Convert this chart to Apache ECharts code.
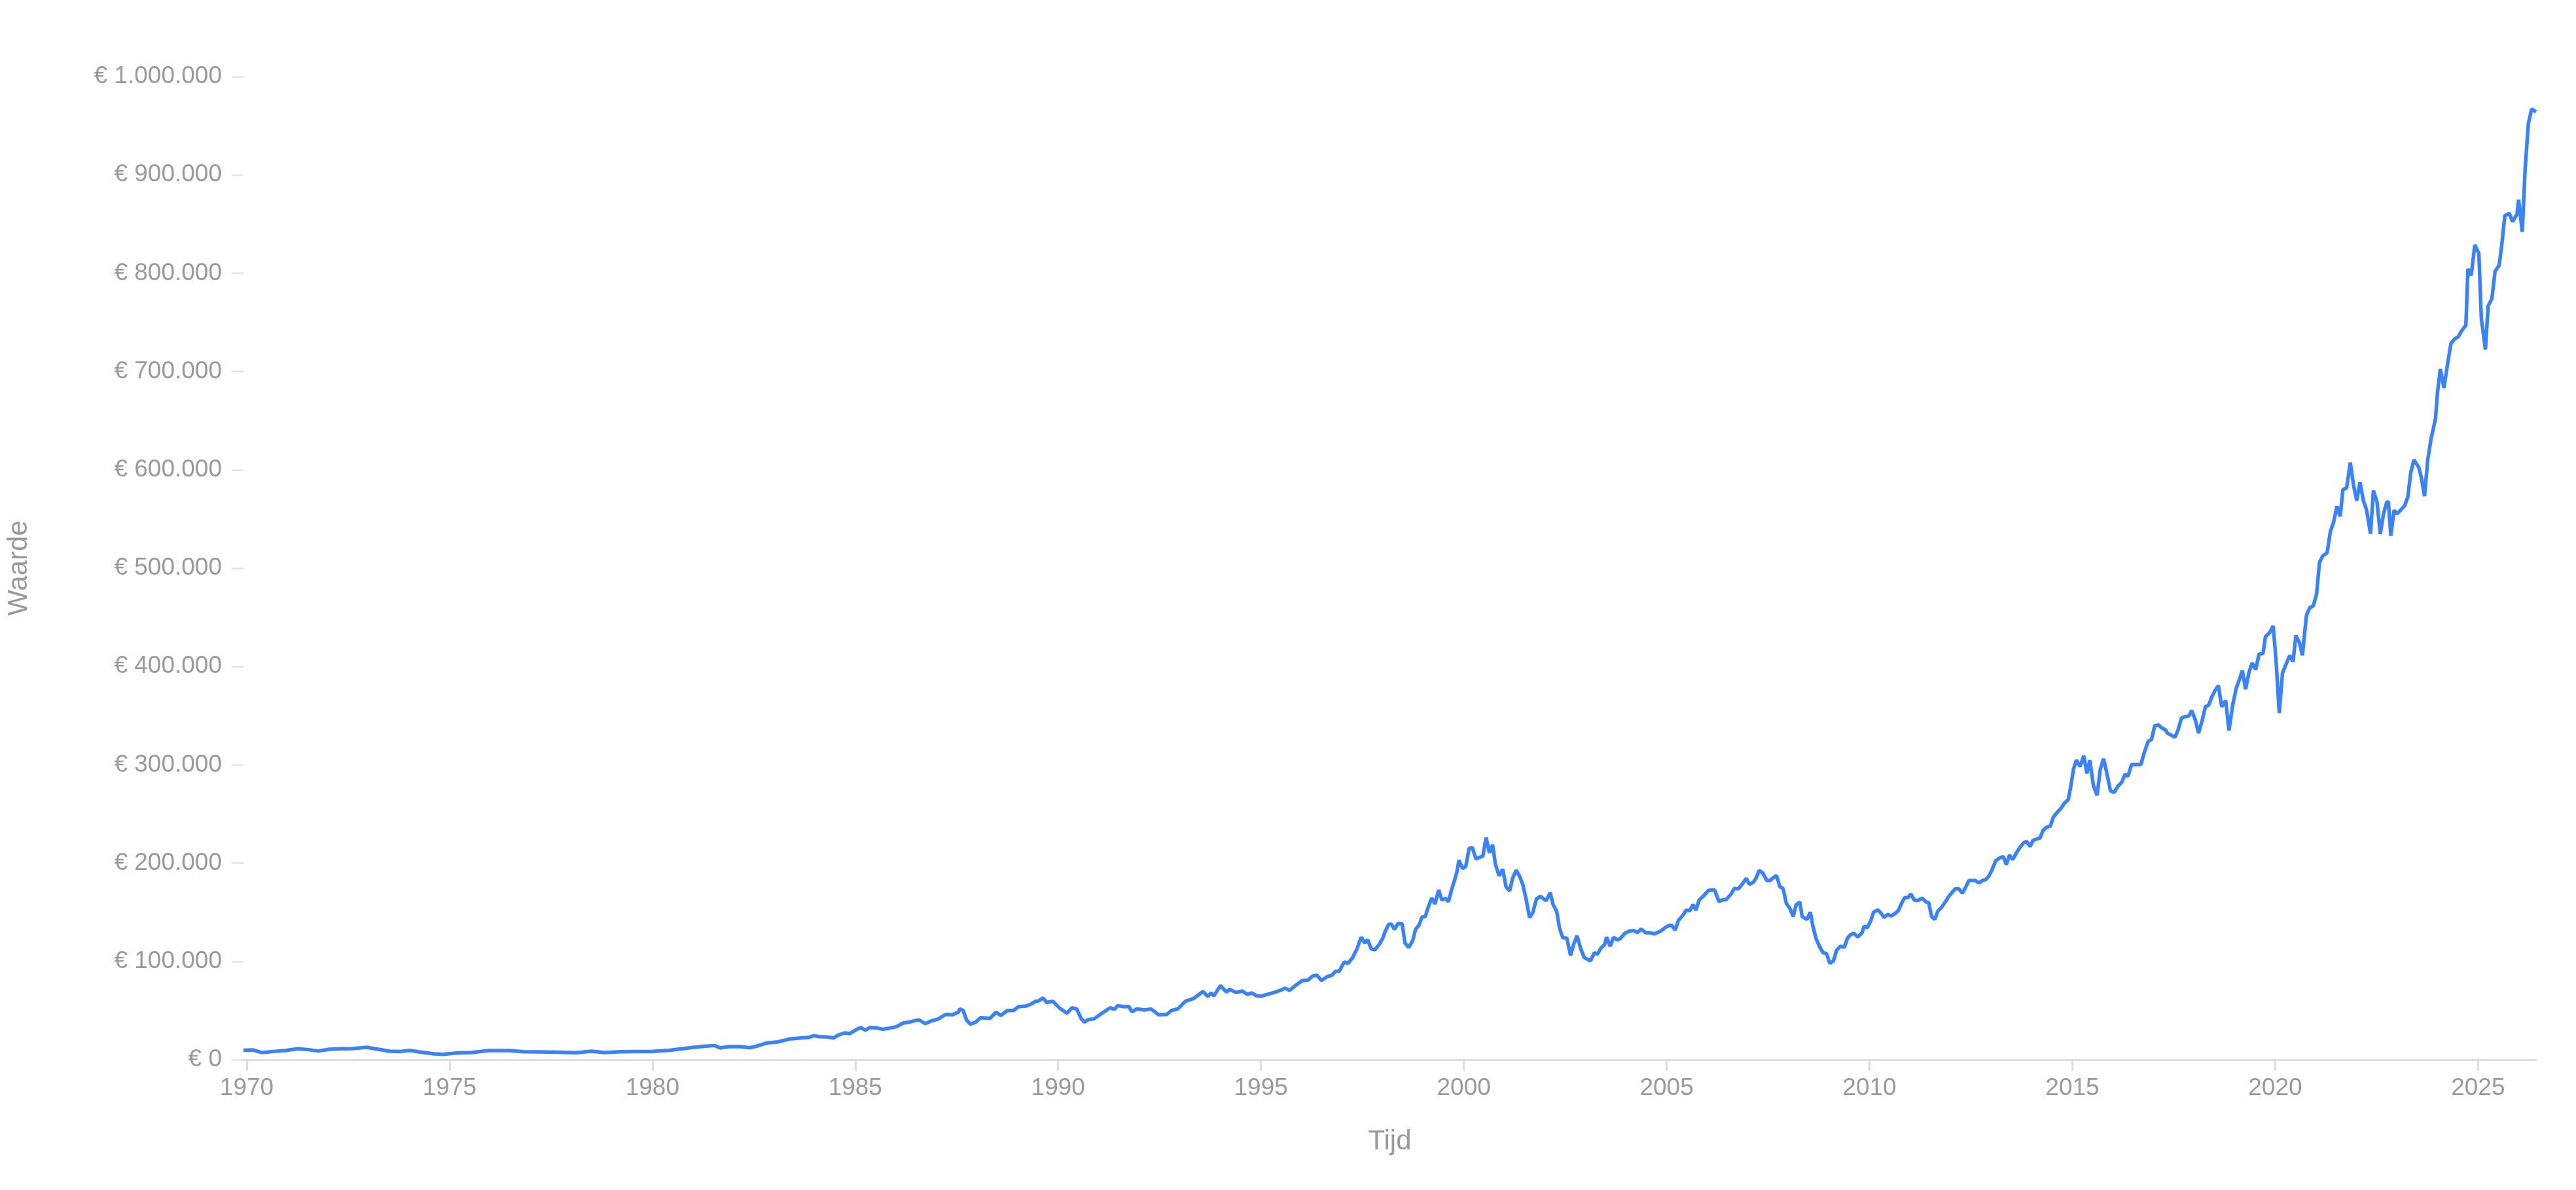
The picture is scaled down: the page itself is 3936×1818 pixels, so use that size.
<!DOCTYPE html>
<html>
<head>
<meta charset="utf-8">
<script src="https://cdn.jsdelivr.net/npm/echarts@6/dist/echarts.min.js"></script>
<style>
html,body{margin:0;padding:0;background:#fff;overflow:hidden;width:100%;height:100%;}
#chart{position:absolute;left:0;top:0;width:3936px;height:1818px;}
</style>
</head>
<body>
<div id="chart"></div>
<script>
// ---- Data (decimal year, value in euro) ----
const years1970s = [1969.92,1970.15,1970.38,1970.66,1970.94,1971.26,1971.49,1971.77,1972.04,1972.32,
1972.60,1972.96,1973.24,1973.52,1973.79,1974.02,1974.25,1974.62,1974.85,1975.18,
1975.54,1975.96,1976.47,1976.83,1977.20,1977.66,1978.12,1978.49,1978.82,1979.23,
1979.60,1979.97,1980.43,1980.89,1981.26,1981.53,1981.67,1981.90,1982.18,1982.41,
1982.59,1982.82,1983.10,1983.38,1983.65,1983.84,1983.98];
const values1970s = [9600,10000,7300,8400,9300,11100,10400,8900,10600,11100,
11300,12600,10600,8600,8400,9500,8000,6000,5500,6900,
7300,9300,9300,8200,8000,7700,7100,8600,7300,8200,
8400,8400,9700,12000,13700,14400,12000,13500,13300,12200,
14000,17100,18200,21100,22200,22600,24400];

const years1984 = [1984.12,1984.27,1984.47,1984.58,1984.74,1984.86,1985.01,1985.13,1985.25,1985.36,
1985.52,1985.67,1985.83,1986.02,1986.18,1986.33,1986.45,1986.57,1986.72,1986.88,
1987.04,1987.23,1987.39,1987.54,1987.58,1987.66,1987.74,1987.84,1987.97,1988.09,
1988.32,1988.47,1988.59,1988.75,1988.90,1989.02,1989.21,1989.33,1989.45,1989.52,
1989.63,1989.72,1989.87,1990.03,1990.22,1990.34,1990.46,1990.57,1990.65,1990.73,
1990.89,1991.08,1991.28,1991.39,1991.47,1991.63,1991.74,1991.82,1991.94,1992.13,
1992.29,1992.48,1992.68,1992.79,1992.95,1993.14,1993.34,1993.57,1993.69,1993.77,
1993.84,1994.00,1994.15,1994.23,1994.39,1994.54,1994.66,1994.78,1994.89,1995.01,
1995.17,1995.32,1995.48,1995.59,1995.71,1995.87,1996.02];
const values1984 = [23500,23300,22200,25000,27300,26600,30200,32800,30000,32800,
32400,31000,32000,33700,37300,38300,39500,40600,36800,39500,
41300,46100,45700,48300,51700,50100,40600,36200,38300,42800,
42100,48300,45000,50100,50100,53900,54600,56600,59500,59900,
62800,58300,59500,52800,47300,52800,51700,41700,38300,40600,
41700,47300,52800,51300,55000,53900,54300,48800,51700,50600,
51700,45700,46100,50100,51700,59500,62300,69400,64300,67900,
65000,75400,68800,71600,68300,69900,66600,67900,65000,64600,
66600,68300,70600,72800,70600,76100,80600];

const years1996 = [1996.16,1996.27,1996.38,1996.49,1996.63,1996.75,1996.83,1996.93,1997.05,1997.15,
1997.26,1997.37,1997.47,1997.56,1997.63,1997.72,1997.81,1997.92,1998.00,1998.06,
1998.15,1998.22,1998.29,1998.38,1998.48,1998.55,1998.64,1998.74,1998.81,1998.90,
1998.97,1999.05,1999.12,1999.21,1999.29,1999.38,1999.46,1999.55,1999.62,1999.69,
1999.77,1999.83,1999.88,1999.97,2000.05,2000.13,2000.21,2000.30,2000.39,2000.47,
2000.55,2000.63,2000.71,2000.78,2000.87,2000.96,2001.04,2001.13,2001.20,2001.29,
2001.39,2001.46,2001.54,2001.62,2001.70,2001.79,2001.89,2002.03,2002.13,2002.20,
2002.29,2002.36,2002.44,2002.54,2002.63,2002.71,2002.79,2002.88,2002.97,2003.12,
2003.22,2003.29,2003.38,2003.47,2003.52,2003.61,2003.69,2003.78,2003.86,2003.97,
2004.08,2004.19,2004.28,2004.37,2004.48,2004.59,2004.70,2004.85,2004.98,2005.07,
2005.13,2005.21,2005.29,2005.40,2005.48,2005.57,2005.65,2005.72,2005.80,2005.92,
2006.03,2006.18,2006.29,2006.36,2006.47,2006.58,2006.67,2006.77,2006.88,2006.96,
2007.04,2007.14,2007.21,2007.28,2007.37,2007.47];
const values1996 = [81000,85100,86000,80600,84400,86000,89700,90100,99300,98200,
103900,113100,124600,118800,122200,112600,111900,117600,123400,130300,
137800,137800,132600,138700,138300,118800,114200,121100,132600,137200,
145200,145600,154800,164600,158500,172700,162400,164200,160800,171600,
182300,191000,202900,194500,196700,215100,215800,204300,205900,207100,
225900,210500,218600,198600,186900,193800,176100,171600,184200,192900,
185300,177300,162400,144700,149700,163500,166200,161700,170000,157800,
150900,133700,124100,123600,106200,117600,126200,113100,103900,100500,
109000,107300,113500,117200,124600,115400,124600,121800,123400,128700,
130800,131400,129200,133000,129200,129200,128000,130800,134900,136700,
136500,131900,141700,147000,152100,151600,157800,152100,162400,167000,
172200,172700,160800,162400,163000,168100,174300,173800,179600,184600,
178400,180700,185300,192600,189900,182300];

const years2007 = [2007.55,2007.63,2007.71,2007.79,2007.87,2007.95,2008.03,2008.12,2008.19,2008.28,
2008.34,2008.46,2008.54,2008.60,2008.68,2008.77,2008.85,2008.94,2009.02,2009.11,
2009.19,2009.28,2009.38,2009.46,2009.53,2009.61,2009.71,2009.81,2009.87,2009.95,
2010.03,2010.10,2010.21,2010.29,2010.36,2010.45,2010.53,2010.63,2010.71,2010.79,
2010.87,2010.95,2011.02,2011.11,2011.20,2011.30,2011.39,2011.46,2011.53,2011.61,
2011.69,2011.77,2011.87,2011.96,2012.05,2012.12,2012.20,2012.29,2012.38,2012.45,
2012.53,2012.61,2012.69,2012.79,2012.87,2012.95,2013.02,2013.11,2013.20,2013.30,
2013.37,2013.45,2013.53,2013.61,2013.71,2013.80,2013.87,2013.96,2014.03,2014.12,
2014.20,2014.28,2014.36,2014.46,2014.53,2014.63,2014.72,2014.80,2014.90,2014.96,
2015.03,2015.10,2015.19,2015.28,2015.36,2015.43,2015.52,2015.61,2015.69,2015.77,
2015.85,2015.94,2016.03,2016.12,2016.22,2016.30,2016.37,2016.46,2016.55,2016.69,
2016.77,2016.87,2016.95,2017.03,2017.12,2017.21,2017.30];
const values2007 = [182300,185200,187300,176000,174000,159100,154600,145700,157600,160600,
145700,142700,150100,136800,123400,115100,109100,108000,98100,100500,
111500,115400,114500,124000,127000,128800,124900,128800,135900,134400,
141300,150100,152500,148700,144800,147800,146300,148700,151700,159100,
165000,165000,168600,162100,162100,164400,160600,159700,145700,142700,
151700,154600,160600,166500,171000,174000,174000,169500,176300,182300,
182300,182300,179900,182300,183400,187300,193300,202200,205100,206700,
198300,208100,203700,209600,216200,220600,222100,217000,223000,224500,
225400,233400,236400,237800,246700,251800,255700,260700,264600,278000,
295800,304700,298200,309200,291300,304700,278600,269000,295800,306200,
291300,273500,272000,278000,282400,290500,288300,300300,300300,300300,
312200,324000,325500,339800,340400,337400,335400];

const years2017 = [2017.34,2017.42,2017.53,2017.60,2017.69,2017.77,2017.87,2017.94,2018.03,2018.11,
2018.20,2018.28,2018.36,2018.44,2018.51,2018.60,2018.68,2018.78,2018.86,2018.95,
2019.04,2019.11,2019.19,2019.27,2019.35,2019.43,2019.52,2019.60,2019.70,2019.76,
2019.86,2019.95,2020.02,2020.10,2020.18,2020.28,2020.36,2020.44,2020.51,2020.60,
2020.67,2020.77,2020.85,2020.94,2021.02,2021.09,2021.17,2021.28,2021.36,2021.44,
2021.52,2021.60,2021.67,2021.76,2021.85,2021.93,2022.01,2022.09,2022.17,2022.25,
2022.35];
const values2017 = [332300,330500,328000,334800,347500,348900,349600,355200,345800,332300,
345000,359100,360800,369200,375100,380700,359100,365400,334800,360300,
378200,385800,395900,376800,393400,403600,396700,412500,413300,430400,
434200,441300,406200,352700,393400,403600,411300,404900,431600,424000,
411300,452000,459700,461700,473700,505500,512400,515700,537400,546800,
562800,552700,580000,581500,607500,584600,568700,587600,569200,559500,
535000];

const years2022 = [2022.42,2022.51,2022.59,2022.67,2022.75,2022.79,2022.85,2022.93,2023.00,2023.09,
2023.19,2023.27,2023.34,2023.42,2023.54,2023.60,2023.68,2023.76,2023.84,2023.95,
2024.00,2024.07,2024.16,2024.24,2024.33,2024.42,2024.51,2024.59,2024.70,2024.75,
2024.83,2024.92,2025.02,2025.08,2025.18,2025.25,2025.34,2025.42,2025.52,2025.58,
2025.66,2025.77,2025.85,2025.96,2026.00,2026.09,2026.16,2026.24,2026.32,2026.43];
const values2022 = [579000,567200,534600,555300,567200,567200,533000,558900,555300,558900,
563600,572600,596900,610300,602300,592500,573200,610300,631200,651900,
678700,702500,683200,705500,728300,733100,735200,741100,747100,804400,
797600,828800,819800,754500,722400,767000,773800,802100,808000,827300,
858500,860900,852500,860000,874800,842100,906100,952100,967000,964100];

const xTickYears = [1970,1975,1980,1985,1990,1995,2000,2005,2010,2015,2020,2025];
const xAxisName = 'Tijd';
const yAxisName = 'Waarde';

// ---- Build series data ----
const allYears = [].concat(years1970s, years1984, years1996, years2007, years2017, years2022);
const allValues = [].concat(values1970s, values1984, values1996, values2007, values2017, values2022);
const seriesData = allYears.map((y, i) => [y, allValues[i]]);

const FONT = '"Liberation Sans", Arial, Helvetica, sans-serif';
const TEXT = '#9a9a9a';
const AXIS = '#dddddd';

function euro(v) {
  const s = Math.round(v).toString().replace(/\B(?=(\d{3})+(?!\d))/g, '.');
  return '€ ' + s;
}

const chart = echarts.init(document.getElementById('chart'), null, {renderer: 'canvas', width: 3936, height: 1818});
chart.setOption({
  animation: false,
  backgroundColor: '#ffffff',
  grid: {left: 356, right: 61, top: 117, bottom: 199, containLabel: false},
  xAxis: {
    type: 'value',
    min: allYears[0],
    max: allYears[allYears.length - 1],
    name: xAxisName,
    nameLocation: 'middle',
    nameGap: 104,
    nameTextStyle: {color: TEXT, fontSize: 42, fontFamily: FONT},
    axisLine: {show: true, lineStyle: {color: AXIS, width: 3}},
    axisTick: {show: true, customValues: xTickYears, length: 17, lineStyle: {color: AXIS, width: 3}},
    axisLabel: {show: true, customValues: xTickYears, formatter: v => String(Math.round(v)),
      color: TEXT, fontSize: 37, margin: 25, fontFamily: FONT},
    splitLine: {show: false}
  },
  yAxis: {
    type: 'value',
    min: 0,
    max: 1000000,
    interval: 100000,
    name: yAxisName,
    nameLocation: 'middle',
    nameGap: 322,
    nameRotate: 90,
    nameTextStyle: {color: TEXT, fontSize: 42, fontFamily: FONT},
    axisLine: {show: false},
    axisTick: {show: true, length: 18, lineStyle: {color: '#e2e2e2', width: 2.5}},
    axisLabel: {formatter: euro, color: TEXT, fontSize: 37, margin: 33, fontFamily: FONT},
    splitLine: {show: false}
  },
  series: [{
    type: 'line',
    data: seriesData,
    showSymbol: false,
    symbol: 'none',
    smooth: false,
    lineStyle: {color: '#3b82f6', width: 5.5},
    itemStyle: {color: '#3b82f6'}
  }]
});
</script>
</body>
</html>
